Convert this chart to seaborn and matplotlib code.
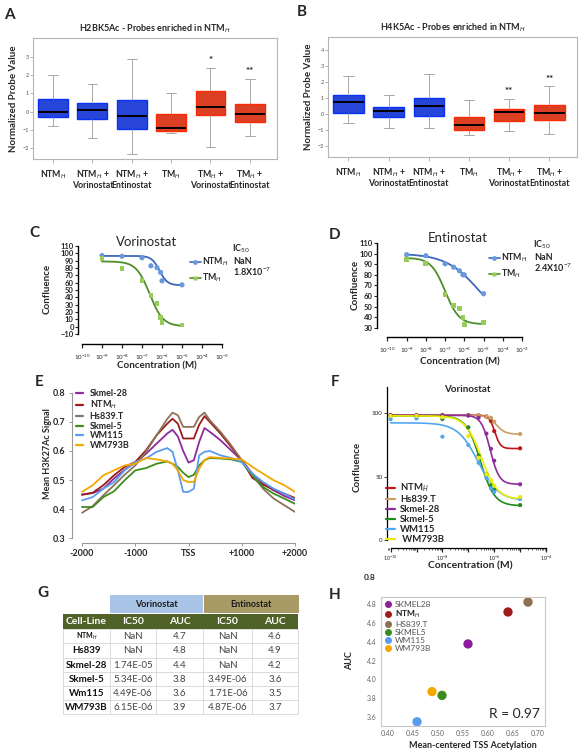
import numpy as np
import pandas as pd
import matplotlib
matplotlib.use('Agg')
import matplotlib.pyplot as plt
import matplotlib.ticker as mticker
from matplotlib.lines import Line2D
from matplotlib.patches import Rectangle
import seaborn as sns

sns.set_style('ticks')
plt.rcParams['font.family'] = ['Lato', 'DejaVu Sans']
plt.rcParams['mathtext.fontset'] = 'custom'
plt.rcParams['mathtext.rm'] = 'Lato'
plt.rcParams['mathtext.bf'] = 'Lato:bold'
plt.rcParams['mathtext.it'] = 'Lato:italic'

# ---------------- data ----------------
# A/B boxplots: five-number summaries (low whisker, Q1, median, Q3, high whisker)
box_groups = ['NTM$_H$', 'NTM$_H$ +\nVorinostat', 'NTM$_H$ +\nEntinostat',
              'TM$_H$', 'TM$_H$ +\nVorinostat', 'TM$_H$ +\nEntinostat']
box_colors = ['#0a32f5', '#0a32f5', '#0a32f5', '#fa2a05', '#fa2a05', '#fa2a05']
h2bk5_stats = [[-0.76, -0.29, 0.00, 0.71, 2.04],
               [-1.42, -0.42, 0.09, 0.49, 1.51],
               [-2.33, -0.95, -0.22, 0.64, 2.91],
               [-1.18, -1.04, -0.89, -0.13, 1.04],
               [-1.96, -0.20, 0.27, 1.13, 2.40],
               [-1.33, -0.58, -0.11, 0.45, 1.80]]
h4k5_stats = [[-0.56, 0.04, 0.71, 1.15, 2.38],
              [-0.88, -0.21, 0.15, 0.42, 1.15],
              [-0.88, -0.15, 0.46, 1.00, 2.50],
              [-1.35, -1.00, -0.73, -0.21, 0.85],
              [-1.08, -0.48, 0.10, 0.29, 0.94],
              [-1.29, -0.38, 0.06, 0.52, 1.73]]
h2bk5_stars = ['', '', '', '', '*', '**']
h4k5_stars = ['', '', '', '', '**', '**']

# C/D dose response (concentration in M, confluence)
dose_conc = [1e-9, 1e-8, 1e-7, 2.8e-7, 5.6e-7, 8.5e-7, 1e-6, 1e-5]
vor_ntm = [97, 96, 94, 83, 80.5, 74, 62.5, 57]
vor_tm = [93, 79, 62.5, 42.5, 31.6, 12, 5.4, 2.2]
ent_ntm = [99, 98, 90.4, 87.2, 83.8, 80, 80, 62.3]
ent_tm = [94.8, 91, 61.6, 51.5, 48, 39.5, 33.5, 34.8]
# fitted 4PL parameters (top, bottom, IC50, hill)
vor_ntm_fit = (96.5, 56.5, 7.5e-7, 2.2)
vor_tm_fit = (89, 0.5, 2.4e-7, 1.3)
ent_ntm_fit = (100, 30, 6e-6, 0.5)
ent_tm_fit = (96, 33.5, 1e-7, 1.2)

# E: mean H3K27Ac around TSS
e_pos = [-2000, -1800, -1600, -1400, -1200, -1000, -800, -600, -400, -300, -200, -100,
         0, 100, 200, 300, 400, 600, 800, 1000, 1200, 1400, 1600, 1800, 2000]
e_lines = ['Skmel-28', 'NTM$_H$', 'Hs839.T', 'Skmel-5', 'WM115', 'WM793B']
e_colors = ['#8e2a9c', '#9b1c1c', '#8c7358', '#3f8c1e', '#5b9bef', '#f5a800']
e_skmel28 = [0.45, 0.455, 0.47, 0.505, 0.535, 0.56, 0.59, 0.625, 0.66, 0.673, 0.65, 0.60,
             0.56, 0.568, 0.631, 0.679, 0.666, 0.637, 0.602, 0.568, 0.522, 0.487, 0.464, 0.445, 0.43]
e_ntm = [0.449, 0.456, 0.482, 0.516, 0.545, 0.562, 0.602, 0.654, 0.694, 0.711, 0.694, 0.643,
         0.643, 0.643, 0.69, 0.72, 0.70, 0.66, 0.614, 0.568, 0.507, 0.484, 0.468, 0.453, 0.438]
e_hs839 = [0.387, 0.41, 0.447, 0.482, 0.518, 0.55, 0.597, 0.654, 0.71, 0.732, 0.723, 0.683,
           0.683, 0.683, 0.717, 0.732, 0.706, 0.666, 0.62, 0.568, 0.516, 0.47, 0.436, 0.413, 0.39]
e_skmel5 = [0.407, 0.407, 0.441, 0.461, 0.499, 0.533, 0.541, 0.556, 0.564, 0.556, 0.545, 0.525,
            0.51, 0.518, 0.55, 0.568, 0.576, 0.574, 0.571, 0.562, 0.516, 0.476, 0.453, 0.436, 0.418]
e_wm115 = [0.43, 0.441, 0.47, 0.493, 0.533, 0.562, 0.574, 0.597, 0.61, 0.597, 0.533, 0.459,
           0.459, 0.47, 0.585, 0.597, 0.60, 0.585, 0.576, 0.562, 0.522, 0.493, 0.47, 0.453, 0.433]
e_wm793b = [0.459, 0.482, 0.516, 0.533, 0.55, 0.556, 0.576, 0.571, 0.564, 0.556, 0.533, 0.50,
            0.493, 0.493, 0.539, 0.568, 0.579, 0.576, 0.574, 0.571, 0.545, 0.522, 0.499, 0.482, 0.459]

# F: vorinostat dose response in cell lines
f_conc = [1e-10, 1e-9, 1e-8, 1e-7, 2.5e-7, 5e-7, 7.5e-7, 1e-6, 1e-5]
f_lines = ['NTM$_H$', 'Hs839.T', 'Skmel-28', 'Skmel-5', 'WM115', ' WM793B']
f_colors = ['#c0141b', '#c8a064', '#8e2c9c', '#1e8c1e', '#50a8f0', '#f0ec00']
f_vals = [[98.7, 98.7, 98.7, 98.7, 98.4, 97.5, 94, 86, 72.4],
          [98.5, 98.5, 98.5, 98.5, 98.3, 97.8, 96.5, 93.4, 83.7],
          [98.5, 98.5, 98.5, 98.2, 96.6, 84, 72, 62.6, 44],
          [98, 97.5, 95.5, 89, 66.6, 52, 43, 39.5, 27.6],
          [95.3, 96, 81.6, 75, 61, 49, 40.8, 38, 32.4],
          [98, 98, 97, 82, 65, 52, 47, 43, 34]]
f_fits = [(98.6, 72.2, 1.05e-6, 4.0),
          (98.5, 83.5, 1.2e-6, 2.5),
          (98.5, 44, 7e-7, 2.5),
          (98, 27, 2.9e-7, 1.6),
          (92.5, 31, 2.4e-7, 1.1),
          (98, 32, 3.2e-7, 1.4)]

# G: table
g_rows = ['NTM$_H$', 'Hs839', 'Skmel-28', 'Skmel-5', 'Wm115', 'WM793B']
g_vor_ic50 = ['NaN', 'NaN', '1.74E-05', '5.34E-06', '4.49E-06', '6.15E-06']
g_vor_auc = ['4.7', '4.8', '4.4', '3.8', '3.6', '3.9']
g_ent_ic50 = ['NaN', 'NaN', 'NaN', '3.49E-06', '1.71E-06', '4.87E-06']
g_ent_auc = ['4.6', '4.9', '4.2', '3.6', '3.5', '3.7']

# H: AUC vs TSS acetylation
h_lines = ['SKMEL28', 'NTM$_H$', 'HS839.T', 'SKMEL5', 'WM115', 'WM793B']
h_colors = ['#8e1c9c', '#a01c1c', '#8c7050', '#3c8c1e', '#5b9bef', '#f5a800']
h_acet = [0.56, 0.64, 0.68, 0.508, 0.458, 0.488]
h_auc = [4.376, 4.715, 4.82, 3.83, 3.55, 3.87]

# ---------------- figure ----------------
W, H = 583, 755
fig = plt.figure(figsize=(W / 100, H / 100), dpi=100)


def add_ax(l, t, r, b):
    return fig.add_axes([l / W, 1 - b / H, (r - l) / W, (b - t) / H])


def ftext(x, y, s, **kw):
    kw.setdefault('ha', 'center')
    kw.setdefault('va', 'center')
    fig.text(x / W, 1 - y / H, s, **kw)


def four_pl(conc, top, bottom, ic50, hill):
    conc = np.asarray(conc)
    return bottom + (top - bottom) / (1 + (conc / ic50) ** hill)


for lab, x, y in [('A', 9, 15), ('B', 302, 12), ('C', 34, 233), ('D', 335, 235),
                  ('E', 39, 382), ('F', 335, 382), ('G', 43, 593), ('H', 335, 595)]:
    ftext(x, y, lab, fontsize=11, fontweight='bold')


def box_panel(l, t, r, b, stats, stars, title, ylim, yticks):
    ax = add_ax(l, t, r, b)
    df = pd.DataFrame([(g, v) for g, s in zip(box_groups, stats) for v in s],
                      columns=['group', 'value'])
    sns.boxplot(data=df, x='group', y='value', hue='group', palette=box_colors,
                legend=False, whis=(0, 100), width=0.76, ax=ax,
                medianprops=dict(color='black', linewidth=1.4),
                whiskerprops=dict(color='#9a9a9a', linewidth=0.6),
                capprops=dict(color='#9a9a9a', linewidth=0.6),
                capwidths=0.25)
    for p, c in zip(ax.patches, box_colors):
        p.set_edgecolor(c)
    for i, s in enumerate(stars):
        if s:
            top = stats[i][4]
            ax.text(i, top + 0.15, s, ha='center', va='bottom', fontsize=7, fontweight='bold')
    ax.set_xlim(-0.51, 5.69)
    ax.set_ylim(*ylim)
    ax.set_yticks(yticks)
    ax.set_xticks(range(6))
    ax.set_xticklabels(box_groups, fontsize=6.3, fontweight='bold', linespacing=1.0)
    ax.tick_params(axis='y', labelsize=4, labelcolor='#555555', color='#999999', length=2, width=0.5, pad=1)
    ax.tick_params(axis='x', color='#999999', length=3, width=0.5, pad=4)
    for sp in ax.spines.values():
        sp.set_color('#b5b5b5')
        sp.set_linewidth(0.8)
    ax.set_xlabel('')
    ax.set_ylabel('Normalized Probe Value', fontsize=7, fontweight='bold', labelpad=3)
    ax.set_title(title, fontsize=6.5, fontweight='bold', pad=5)
    return ax


box_panel(33, 38, 277, 159, h2bk5_stats, h2bk5_stars,
          'H2BK5Ac - Probes enriched in NTM$_H$', (-2.6, 4.05), [-2, -1, 0, 1, 2, 3])
box_panel(328, 37, 577, 157, h4k5_stats, h4k5_stars,
          'H4K5Ac - Probes enriched in NTM$_H$', (-2.7, 4.8), [-2, -1, 0, 1, 2, 3, 4])


def log_axis(ax, lo, hi, labels_every=1, labelsize=4.5, pad=3):
    ax.set_xscale('log')
    majors = [10.0 ** k for k in range(lo, hi + 1)]
    ax.xaxis.set_major_locator(mticker.FixedLocator(majors))
    ax.xaxis.set_minor_locator(mticker.LogLocator(base=10, subs=np.arange(2, 10)))
    ax.xaxis.set_minor_formatter(mticker.NullFormatter())
    labs = ['10$^{%d}$' % k if (k - lo) % labels_every == 0 else '' for k in range(lo, hi + 1)]
    ax.set_xticklabels(labs)
    ax.tick_params(axis='x', which='major', length=3, width=0.9, labelsize=labelsize, pad=pad)
    ax.tick_params(axis='x', which='minor', length=1.5, width=0.5)
    ax.spines['bottom'].set_bounds(10.0 ** lo, 10.0 ** hi)


def dose_panel(l, t, r, b, xlim, ylim, yb, yticks, ntm, tm, ntm_fit, tm_fit):
    ax = add_ax(l, t, r, b)
    grid = np.logspace(-9, -5, 300)
    sns.lineplot(x=grid, y=four_pl(grid, *ntm_fit), color='#3d68b8', linewidth=1.3, ax=ax)
    sns.lineplot(x=grid, y=four_pl(grid, *tm_fit), color='#4f8e2a', linewidth=1.3, ax=ax)
    sns.scatterplot(x=dose_conc, y=ntm, color='#6b98dc', marker='o', s=14, edgecolor='none', ax=ax, zorder=3)
    sns.scatterplot(x=dose_conc, y=tm, color='#96cc5a', marker='s', s=12, edgecolor='none', ax=ax, zorder=3)
    log_axis(ax, -10, -3)
    ax.set_xlim(*xlim)
    ax.set_ylim(*ylim)
    ax.set_yticks(yticks)
    ax.tick_params(axis='y', labelsize=5.5, length=2, width=0.8, pad=1)
    for lb in ax.get_yticklabels():
        lb.set_fontweight('bold')
    ax.spines['left'].set_bounds(*yb)
    sns.despine(ax=ax)
    for sp in ('left', 'bottom'):
        ax.spines[sp].set_linewidth(1.0)
        ax.spines[sp].set_color('black')
    ax.set_xlabel('')
    ax.set_ylabel('')
    return ax


def dose_legend(ax, x, y, ic50_x, ic50_vals):
    hs = [Line2D([], [], color='#3d68b8', marker='o', markerfacecolor='#6b98dc',
                 markeredgecolor='none', markersize=3.5, lw=1.2),
          Line2D([], [], color='#4f8e2a', marker='s', markerfacecolor='#96cc5a',
                 markeredgecolor='none', markersize=3.5, lw=1.2)]
    ax.legend(hs, ['NTM$_H$', 'TM$_H$'], loc='upper left', bbox_to_anchor=(x / W, 1 - y / H),
              bbox_transform=fig.transFigure, frameon=False, handlelength=1.2,
              handletextpad=0.2, labelspacing=0.35, borderpad=0, borderaxespad=0,
              prop=dict(weight='bold', size=6.3))
    ftext(ic50_x + 8, y - 7, 'IC$_{50}$', fontsize=6.5, fontweight='bold')
    ftext(ic50_x, y + 5, ic50_vals[0], fontsize=6.5, fontweight='bold', ha='left')
    ftext(ic50_x, y + 16, ic50_vals[1], fontsize=6.5, fontweight='bold', ha='left')


# C
ax_c = dose_panel(78, 240, 222, 344, (10 ** -10.2, 1e-3), (-23.6, 118.2), (-10, 110),
                  list(range(-10, 111, 10)), vor_ntm, vor_tm, vor_ntm_fit, vor_tm_fit)
ftext(147, 242, 'Vorinostat', fontsize=9.5)
ftext(157, 366, 'Concentration (M)', fontsize=7, fontweight='bold')
ftext(47, 289, 'Confluence', fontsize=7, fontweight='bold', rotation=90)
dose_legend(ax_c, 190, 256, 233, ['NaN', '1.8X10$^{-7}$'])

# D
ax_d = dose_panel(377, 237, 522, 337, (10 ** -10.54, 1e-3), (21.5, 115.6), (30, 110),
                  list(range(30, 111, 10)), ent_ntm, ent_tm, ent_ntm_fit, ent_tm_fit)
ftext(458, 238, 'Entinostat', fontsize=9.5)
ftext(460, 362, 'Concentration (M)', fontsize=7, fontweight='bold')
ftext(355, 285, 'Confluence', fontsize=7, fontweight='bold', rotation=90)
dose_legend(ax_d, 489, 252, 534, ['NaN', '2.4X10$^{-7}$'])

# E
ax_e = add_ax(72, 390, 295, 543)
series_e = [e_skmel28, e_ntm, e_hs839, e_skmel5, e_wm115, e_wm793b]
df_e = pd.DataFrame([(p, v, name) for name, vals in zip(e_lines, series_e) for p, v in zip(e_pos, vals)],
                    columns=['pos', 'signal', 'line'])
sns.lineplot(data=df_e, x='pos', y='signal', hue='line', hue_order=e_lines,
             palette=e_colors, linewidth=1.3, legend=False, ax=ax_e)
ax_e.set_xlim(-2188, 2000)
ax_e.set_ylim(0.283, 0.810)
ax_e.set_yticks([0.3, 0.4, 0.5, 0.6, 0.7, 0.8])
ax_e.set_yticklabels(['0.3', '0.4', '0.5', '0.6', '0.7', '0.8'], fontweight='bold')
ax_e.set_xticks([-2000, -1000, 0, 1000, 2000])
ax_e.set_xticklabels(['-2000', '-1000', 'TSS', '+1000', '+2000'], fontweight='bold')
ax_e.tick_params(labelsize=6.5, length=2.5, width=0.6, color='#888888', pad=2)
sns.despine(ax=ax_e)
ax_e.spines['left'].set_bounds(0.3, 0.8)
ax_e.spines['bottom'].set_bounds(-2000, 2000)
for sp in ('left', 'bottom'):
    ax_e.spines[sp].set_color('#999999')
    ax_e.spines[sp].set_linewidth(0.8)
ax_e.set_xlabel('')
ax_e.set_ylabel('')
ftext(48, 454, 'Mean H3K27Ac Signal', fontsize=6.5, fontweight='bold', rotation=90)
hs_e = [Line2D([], [], color=c, lw=1.6) for c in e_colors]
ax_e.legend(hs_e, e_lines, loc='upper left', bbox_to_anchor=(76 / W, 1 - 389 / H),
            bbox_transform=fig.transFigure, frameon=False, handlelength=0.8,
            handletextpad=0.7, labelspacing=0.08, borderpad=0, borderaxespad=0,
            prop=dict(weight='bold', size=6.5))

# F
ax_f = add_ax(387, 387, 546, 548)
f_grid = np.logspace(-10, -5, 300)
for name, vals, fit, c in zip(f_lines, f_vals, f_fits, f_colors):
    sns.lineplot(x=f_grid, y=four_pl(f_grid, *fit), color=c, linewidth=1.2, ax=ax_f)
    sns.scatterplot(x=f_conc, y=vals, color=c, marker='o', s=9, edgecolor='none', ax=ax_f, zorder=3)
log_axis(ax_f, -10, -4, labels_every=2, labelsize=3.8, pad=1)
ax_f.set_xlim(10 ** -10.14, 1e-4)
ax_f.set_ylim(-6.3, 120.8)
ax_f.set_yticks([0, 50, 100])
ax_f.tick_params(axis='y', labelsize=4.5, length=2, width=0.6, pad=1)
sns.despine(ax=ax_f)
ax_f.spines['left'].set_bounds(0, 120.8)
for sp in ('left', 'bottom'):
    ax_f.spines[sp].set_linewidth(0.9)
    ax_f.spines[sp].set_color('black')
ax_f.set_xlabel('')
ax_f.set_ylabel('')
ftext(467, 389, 'Vorinostat', fontsize=7, fontweight='bold')
ftext(357, 467, 'Confluence', fontsize=7, fontweight='bold', rotation=90)
ftext(470, 566, 'Concentration (M)', fontsize=7.5, fontweight='bold')
hs_f = [Line2D([], [], color=c, lw=1.6) for c in f_colors]
ax_f.legend(hs_f, f_lines, loc='upper left', bbox_to_anchor=(386 / W, 1 - 482 / H),
            bbox_transform=fig.transFigure, frameon=False, handlelength=1.0,
            handletextpad=0.5, labelspacing=0.1, borderpad=0, borderaxespad=0,
            prop=dict(weight='bold', size=6.8))
ftext(370, 578, '0.8', fontsize=6, fontweight='bold')

# G table
ax_g = add_ax(60, 590, 300, 716)
ax_g.set_xlim(60, 300)
ax_g.set_ylim(716, 590)
ax_g.axis('off')
col_edges = [63, 110, 156, 203, 252, 298]
row_edges = [629, 643, 658, 672, 686, 700, 714]
ax_g.add_patch(Rectangle((110, 595), 93, 18, facecolor='#a9c4e6', edgecolor='none'))
ax_g.add_patch(Rectangle((203.5, 595), 95, 18, facecolor='#a99b65', edgecolor='none'))
ax_g.text(156.5, 604, 'Vorinostat', ha='center', va='center', fontsize=6.5, fontweight='bold', color='#1a1a1a')
ax_g.text(251, 604, 'Entinostat', ha='center', va='center', fontsize=6.5, fontweight='bold', color='#1a1a1a')
ax_g.add_patch(Rectangle((63, 614), 235, 14.5, facecolor='#4f6228', edgecolor='none'))
for i, h in enumerate(['Cell-Line', 'IC50', 'AUC', 'IC50', 'AUC']):
    ax_g.text((col_edges[i] + col_edges[i + 1]) / 2, 621.5, h, ha='center', va='center',
              fontsize=7.5, fontweight='bold', color='white')
for x in col_edges:
    ax_g.plot([x, x], [629, 714], color='#d5d5d5', lw=0.6)
for y in row_edges:
    ax_g.plot([63, 298], [y, y], color='#d5d5d5', lw=0.6)
cols = [g_vor_ic50, g_vor_auc, g_ent_ic50, g_ent_auc]
for r, name in enumerate(g_rows):
    yc = (row_edges[r] + row_edges[r + 1]) / 2
    ax_g.text(86.5, yc, name, ha='center', va='center', fontsize=5 if r == 0 else 7,
              fontweight='bold', color='#111111')
    for c, vals in enumerate(cols):
        ax_g.text((col_edges[c + 1] + col_edges[c + 2]) / 2, yc, vals[r], ha='center',
                  va='center', fontsize=7, color='#444444')

# H
ax_h = add_ax(381, 597, 545, 726)
df_h = pd.DataFrame({'acet': h_acet, 'auc': h_auc, 'line': h_lines})
sns.scatterplot(data=df_h, x='acet', y='auc', hue='line', hue_order=h_lines, palette=h_colors,
                s=45, edgecolor='none', legend=False, ax=ax_h)
ax_h.set_xlim(0.386, 0.714)
ax_h.set_ylim(3.505, 4.874)
ax_h.set_xticks([0.40, 0.45, 0.50, 0.55, 0.60, 0.65, 0.70])
ax_h.set_xticklabels(['0.40', '0.45', '0.50', '0.55', '0.60', '0.65', '0.70'])
ax_h.set_yticks([3.6, 3.8, 4.0, 4.2, 4.4, 4.6, 4.8])
ax_h.set_yticklabels(['3.6', '3.8', '4.0', '4.2', '4.4', '4.6', '4.8'])
ax_h.tick_params(labelsize=5, labelcolor='#666666', length=0, pad=3)
for sp in ax_h.spines.values():
    sp.set_color('#c8c8c8')
    sp.set_linewidth(0.8)
ax_h.set_xlabel('')
ax_h.set_ylabel('')
ftext(473, 746, 'Mean-centered TSS Acetylation', fontsize=6.5, fontweight='bold')
ftext(350, 661, 'AUC', fontsize=6.5, fontweight='bold', rotation=90)
hs_h = [Line2D([], [], color=c, marker='o', lw=0, markersize=4) for c in h_colors]
leg_h = ax_h.legend(hs_h, h_lines, loc='upper left', bbox_to_anchor=(385 / W, 1 - 601 / H),
                    bbox_transform=fig.transFigure, frameon=False, handlelength=0.8,
                    handletextpad=0.4, labelspacing=0.12, borderpad=0, borderaxespad=0,
                    prop=dict(size=6))
for i, t in enumerate(leg_h.get_texts()):
    t.set_color('#555555')
    if i == 1:
        t.set_fontweight('bold')
        t.set_color('#222222')
ax_h.text(0.97, 0.05, 'R = 0.97', transform=ax_h.transAxes, ha='right', va='bottom', fontsize=10)

fig.savefig('out.png', dpi=100)
